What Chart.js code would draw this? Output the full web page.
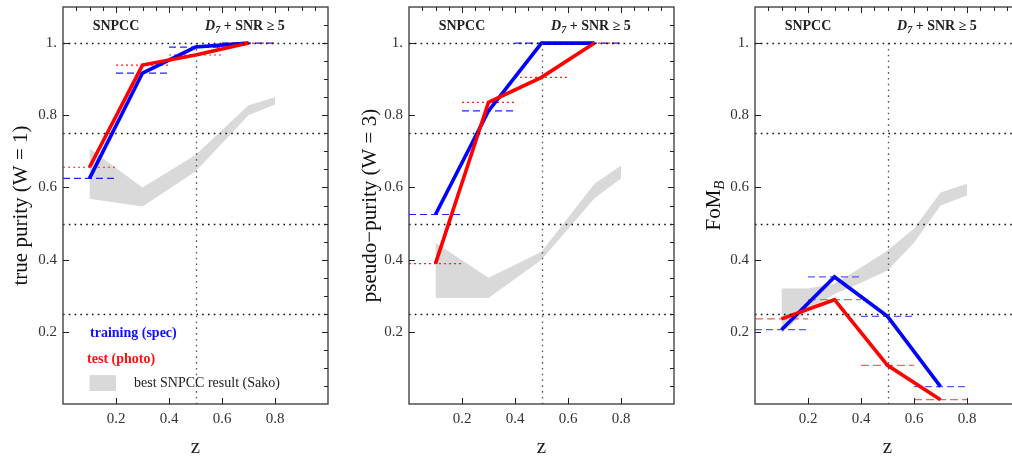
<!DOCTYPE html>
<html>
<head>
<meta charset="utf-8">
<script src="https://cdn.jsdelivr.net/npm/chart.js@4.4.1/dist/chart.umd.min.js"></script>
<style>
  html, body { margin: 0; padding: 0; background: #fff; overflow: hidden; width: 1012px; height: 457px; }
  canvas { position: absolute; top: 0; }
</style>
</head>
<body>
<canvas id="g1" width="340" height="457" style="left:0px"></canvas>
<canvas id="g2" width="346" height="457" style="left:340px"></canvas>
<canvas id="g3" width="346" height="457" style="left:686px"></canvas>
<script>
// redshift bins
const zBins = [0.1, 0.3, 0.5, 0.7];
const binLo = [0.0, 0.2, 0.4, 0.6];
const binHi = [0.2, 0.4, 0.6, 0.8];
const xTicks = [0.2, 0.4, 0.6, 0.8];
const yTicks = [0.2, 0.4, 0.6, 0.8, 1.0];
const refY = [0.25, 0.5, 0.75, 1.0];
const refX = [0.5];

// true purity (W=1)
const truePurityTrain = [0.625, 0.917, 0.989, 1.0];
const truePurityTest  = [0.656, 0.939, 0.967, 1.0];
// pseudo-purity (W=3)
const pseudoPurityTrain = [0.525, 0.812, 1.0, 1.0];
const pseudoPurityTest  = [0.389, 0.836, 0.905, 1.0];
// FoM_B
const fomTrain = [0.206, 0.352, 0.243, 0.048];
const fomTest  = [0.236, 0.289, 0.107, 0.012];

// best SNPCC result (Sako) band
const sakoZ = [0.1, 0.3, 0.5, 0.7, 0.8];
const sakoTrueLo = [0.569, 0.547, 0.644, 0.800, 0.830];
const sakoTrueHi = [0.708, 0.600, 0.690, 0.828, 0.850];
const sakoPseudoLo = [0.294, 0.294, 0.400, 0.570, 0.625];
const sakoPseudoHi = [0.447, 0.350, 0.422, 0.610, 0.661];
const sakoFomZ  = [0.1, 0.2, 0.3, 0.4, 0.5, 0.6, 0.7, 0.8];
const sakoFomLo = [0.197, 0.260, 0.305, 0.336, 0.370, 0.447, 0.550, 0.578];
const sakoFomHi = [0.320, 0.320, 0.333, 0.378, 0.425, 0.486, 0.586, 0.610];

const SERIF = "'Liberation Serif', 'DejaVu Serif', serif";

function pts(xs, ys) {
  return xs.map((x, i) => ({ x: x, y: ys[i] }));
}
function binPts(vals) {
  const out = [];
  vals.forEach((v, i) => {
    out.push({ x: binLo[i], y: v }, { x: binHi[i], y: v }, { x: binHi[i], y: null });
  });
  return out;
}

function drawParts(ctx, parts, x, y, center) {
  let w = 0;
  parts.forEach(p => { ctx.font = p.font; w += ctx.measureText(p.t).width; });
  let cx = center ? x - w / 2 : x;
  parts.forEach(p => {
    ctx.font = p.font;
    ctx.fillStyle = p.color || '#222';
    ctx.fillText(p.t, cx, y + (p.dy || 0));
    cx += ctx.measureText(p.t).width;
  });
}

const framePlugin = {
  id: 'frame',
  afterDatasetsDraw(chart) {
    const ctx = chart.ctx, xs = chart.scales.x, ys = chart.scales.y, a = chart.chartArea;
    ctx.save();
    ctx.lineWidth = 1.3;
    ctx.setLineDash([1.6, 4.2]);
    ctx.strokeStyle = '#111';
    refY.forEach(v => {
      const y = Math.round(ys.getPixelForValue(v)) + 0.5;
      ctx.beginPath(); ctx.moveTo(a.left, y); ctx.lineTo(a.right, y); ctx.stroke();
    });
    ctx.strokeStyle = '#555';
    refX.forEach(v => {
      const x = Math.round(xs.getPixelForValue(v)) + 0.5;
      ctx.beginPath(); ctx.moveTo(x, ys.getPixelForValue(1.0)); ctx.lineTo(x, a.bottom); ctx.stroke();
    });
    ctx.restore();
  },
  afterDraw(chart) {
    const o = chart.options.plugins.frame;
    const ctx = chart.ctx, xs = chart.scales.x, ys = chart.scales.y, a = chart.chartArea;
    ctx.save();
    // frame
    ctx.strokeStyle = '#444';
    ctx.lineWidth = 1.4;
    ctx.strokeRect(a.left, a.top, a.right - a.left, a.bottom - a.top);
    // tick marks
    ctx.lineWidth = 1;
    ctx.strokeStyle = '#222';
    ctx.beginPath();
    yTicks.forEach(v => {
      const y = Math.round(ys.getPixelForValue(v)) + 0.5;
      ctx.moveTo(a.left, y); ctx.lineTo(a.left + 6, y);
    });
    xTicks.forEach(v => {
      const x = Math.round(xs.getPixelForValue(v)) + 0.5;
      ctx.moveTo(x, a.bottom); ctx.lineTo(x, a.bottom - 6);
    });
    for (let k = 1; k <= 21; k++) {
      const v = k * 0.05;
      const y = Math.round(ys.getPixelForValue(v)) + 0.5;
      ctx.moveTo(a.right, y); ctx.lineTo(a.right - (k % 4 === 0 ? 6 : 4), y);
    }
    for (let k = 1; k < 20; k++) {
      const v = k * 0.05;
      const x = Math.round(xs.getPixelForValue(v)) + 0.5;
      ctx.moveTo(x, a.top); ctx.lineTo(x, a.top + (k % 4 === 0 ? 6 : 4));
    }
    ctx.stroke();

    ctx.textBaseline = 'alphabetic';
    ctx.textAlign = 'left';
    // header texts
    const hb = ys.getPixelForValue(1.036);
    drawParts(ctx, [{ t: 'SNPCC', font: 'bold 14px ' + SERIF }], xs.getPixelForValue(0.2), hb, true);
    drawParts(ctx, [
      { t: 'D', font: 'italic bold 14px ' + SERIF },
      { t: '7', font: 'italic bold 10px ' + SERIF, dy: 3 },
      { t: ' + SNR \u2265 5', font: 'bold 14px ' + SERIF }
    ], xs.getPixelForValue(0.536), hb, false);

    // legend
    if (o.legend) {
      drawParts(ctx, [{ t: 'training (spec)', font: 'bold 14px ' + SERIF, color: '#1010ff' }],
        xs.getPixelForValue(0.102), ys.getPixelForValue(0.186), false);
      drawParts(ctx, [{ t: 'test (photo)', font: 'bold 14px ' + SERIF, color: '#ff1010' }],
        xs.getPixelForValue(0.091), ys.getPixelForValue(0.114), false);
      const bx0 = xs.getPixelForValue(0.1), bx1 = xs.getPixelForValue(0.2);
      const by0 = ys.getPixelForValue(0.080), by1 = ys.getPixelForValue(0.036);
      ctx.fillStyle = '#d9d9d9';
      ctx.fillRect(bx0, by0, bx1 - bx0, by1 - by0);
      drawParts(ctx, [{ t: 'best SNPCC result (Sako)', font: '14px ' + SERIF, color: '#222' }],
        xs.getPixelForValue(0.268), ys.getPixelForValue(0.047), false);
    }

    // axis titles
    drawParts(ctx, [{ t: 'z', font: '21px ' + SERIF, color: '#222' }], (a.left + a.right) / 2, 453, true);
    ctx.translate(o.titleX, (a.top + a.bottom) / 2);
    ctx.rotate(-Math.PI / 2);
    drawParts(ctx, o.yTitle, 0, 7, true);
    ctx.restore();
  }
};

function makePanel(id, p) {
  const tickFont = { family: SERIF, size: 15 };
  return new Chart(document.getElementById(id), {
    type: 'line',
    data: {
      datasets: [
        { data: pts(zBins, p.test), borderColor: '#ff0000', borderWidth: 3.6, pointRadius: 0, fill: false },
        { data: pts(zBins, p.train), borderColor: '#0000ff', borderWidth: 3.6, pointRadius: 0, fill: false },
        { data: binPts(p.test), borderColor: p.testBinColor, borderWidth: 1.2, borderDash: p.testDash, pointRadius: 0, spanGaps: false, fill: false },
        { data: binPts(p.train), borderColor: p.trainBinColor, borderWidth: 1.2, borderDash: [7, 4], pointRadius: 0, spanGaps: false, fill: false },
        { data: pts(p.bandZ, p.bandLo), borderWidth: 0, borderColor: 'rgba(0,0,0,0)', pointRadius: 0, fill: false },
        { data: pts(p.bandZ, p.bandHi), borderWidth: 0, borderColor: 'rgba(0,0,0,0)', backgroundColor: '#d9d9d9', pointRadius: 0, fill: '-1' }
      ]
    },
    options: {
      responsive: false,
      animation: false,
      devicePixelRatio: 1,
      layout: { padding: { left: 0, right: 12, top: 7, bottom: 0 } },
      scales: {
        x: {
          type: 'linear', min: 0, max: 1,
          afterBuildTicks: s => { s.ticks = xTicks.map(v => ({ value: v })); },
          afterFit: s => { s.height = 53; s.paddingLeft = 0; s.paddingRight = 0; },
          ticks: { callback: v => v.toFixed(1), font: tickFont, color: '#333', padding: 6, maxRotation: 0, autoSkip: false },
          grid: { display: false, drawTicks: false },
          border: { display: false }
        },
        y: {
          type: 'linear', min: 0, max: 1.1,
          afterBuildTicks: s => { s.ticks = yTicks.map(v => ({ value: v })); },
          afterFit: s => { s.width = p.yWidth; s.paddingTop = 0; s.paddingBottom = 0; },
          ticks: { callback: v => (v === 1 ? '1.' : v.toFixed(1)), font: tickFont, color: '#333', padding: 6, autoSkip: false },
          grid: { display: false, drawTicks: false },
          border: { display: false }
        }
      },
      plugins: {
        legend: { display: false },
        tooltip: { enabled: false },
        frame: { legend: p.legend, titleX: p.titleX, yTitle: p.yTitle }
      }
    },
    plugins: [framePlugin]
  });
}

const titleFont = '21px ' + SERIF;

makePanel('g1', {
  train: truePurityTrain, test: truePurityTest,
  bandZ: sakoZ, bandLo: sakoTrueLo, bandHi: sakoTrueHi,
  trainBinColor: '#2020ff', testBinColor: '#ff2020', testDash: [2, 3],
  yWidth: 63, titleX: 20, legend: true,
  yTitle: [{ t: 'true purity (W = 1)', font: titleFont, color: '#111' }]
});
makePanel('g2', {
  train: pseudoPurityTrain, test: pseudoPurityTest,
  bandZ: sakoZ, bandLo: sakoPseudoLo, bandHi: sakoPseudoHi,
  trainBinColor: '#2020ff', testBinColor: '#ff2020', testDash: [2, 3],
  yWidth: 69, titleX: 29, legend: false,
  yTitle: [{ t: 'pseudo\u2212purity (W = 3)', font: titleFont, color: '#111' }]
});
makePanel('g3', {
  train: fomTrain, test: fomTest,
  bandZ: sakoFomZ, bandLo: sakoFomLo, bandHi: sakoFomHi,
  trainBinColor: '#5a5aff', testBinColor: '#ff6060', testDash: [8, 4],
  yWidth: 69, titleX: 27, legend: false,
  yTitle: [
    { t: 'FoM', font: titleFont, color: '#111' },
    { t: 'B', font: 'italic 15px ' + SERIF, color: '#111', dy: 4 }
  ]
});
</script>
</body>
</html>
